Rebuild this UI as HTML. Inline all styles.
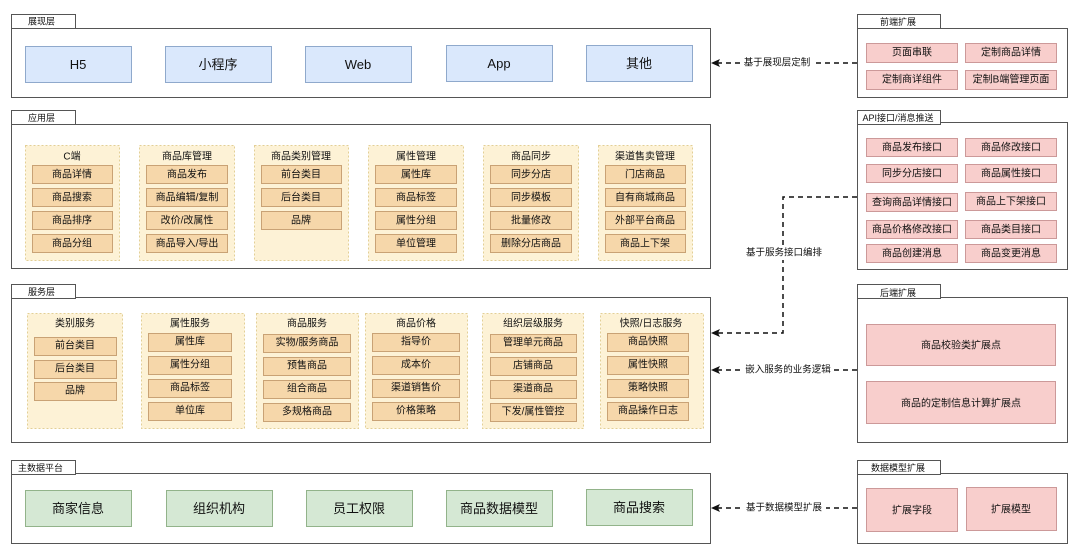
<!DOCTYPE html>
<html><head><meta charset="utf-8"><style>
body{margin:0;background:#fff;width:1080px;height:553px;overflow:hidden}
svg text{font-family:"Liberation Sans","Noto Sans CJK SC",sans-serif;fill:#111;text-anchor:middle;dominant-baseline:central}
.L{fill:#fff;stroke:#555;stroke-width:1}
.b{fill:#dae8fc;stroke:#8fa9cc}
.g{fill:#d5e8d4;stroke:#92b38a}
.p{fill:#f8cecc;stroke:#c99}
.grp{fill:#fdf2d6;stroke:#e3cf95;stroke-dasharray:2 2}
.it{fill:#f6d7aa;stroke:#c9a275}
.c{fill:none;stroke:#111;stroke-width:1.5;stroke-dasharray:5 4}
</style></head><body>
<svg width="1080" height="553" xmlns="http://www.w3.org/2000/svg">
<rect class="L" x="11.5" y="28.5" width="699" height="69"/><rect class="L" x="11.5" y="14.5" width="64" height="14"/><text x="28" y="21.5" font-size="9" style="text-anchor:start">展现层</text>
<rect class="L" x="11.5" y="124.5" width="699" height="144"/><rect class="L" x="11.5" y="110.5" width="64" height="14"/><text x="28" y="118" font-size="9" style="text-anchor:start">应用层</text>
<rect class="L" x="11.5" y="297.5" width="699" height="145"/><rect class="L" x="11.5" y="284.5" width="64" height="14"/><text x="28" y="292" font-size="9" style="text-anchor:start">服务层</text>
<rect class="L" x="11.5" y="473.5" width="699" height="70"/><rect class="L" x="11.5" y="460.5" width="64" height="14"/><text x="18" y="468" font-size="9" style="text-anchor:start">主数据平台</text>

<g font-size="13">
<rect class="b" x="25.5" y="46.5" width="106" height="36"/><text x="78" y="64.5">H5</text>
<rect class="b" x="165.5" y="46.5" width="106" height="36"/><text x="218" y="64.5">小程序</text>
<rect class="b" x="305.5" y="46.5" width="106" height="36"/><text x="358" y="64.5">Web</text>
<rect class="b" x="446.5" y="45.5" width="106" height="36"/><text x="499" y="63.5">App</text>
<rect class="b" x="586.5" y="45.5" width="106" height="36"/><text x="639" y="63.5">其他</text>
</g>

<g font-size="10">
<rect class="grp" x="25.5" y="145.5" width="94" height="115"/><text x="72" y="157">C端</text>
<rect class="it" x="32.5" y="165.5" width="80" height="18"/><text x="72" y="175">商品详情</text>
<rect class="it" x="32.5" y="188.5" width="80" height="18"/><text x="72" y="198">商品搜索</text>
<rect class="it" x="32.5" y="211.5" width="80" height="18"/><text x="72" y="221">商品排序</text>
<rect class="it" x="32.5" y="234.5" width="80" height="18"/><text x="72" y="244">商品分组</text>

<rect class="grp" x="139.5" y="145.5" width="95" height="115"/><text x="187" y="157">商品库管理</text>
<rect class="it" x="146.5" y="165.5" width="81" height="18"/><text x="187" y="175">商品发布</text>
<rect class="it" x="146.5" y="188.5" width="81" height="18"/><text x="187" y="198">商品编辑/复制</text>
<rect class="it" x="146.5" y="211.5" width="81" height="18"/><text x="187" y="221">改价/改属性</text>
<rect class="it" x="146.5" y="234.5" width="81" height="18"/><text x="187" y="244">商品导入/导出</text>

<rect class="grp" x="254.5" y="145.5" width="94" height="115"/><text x="301" y="157">商品类别管理</text>
<rect class="it" x="261.5" y="165.5" width="80" height="18"/><text x="301" y="175">前台类目</text>
<rect class="it" x="261.5" y="188.5" width="80" height="18"/><text x="301" y="198">后台类目</text>
<rect class="it" x="261.5" y="211.5" width="80" height="18"/><text x="301" y="221">品牌</text>

<rect class="grp" x="368.5" y="145.5" width="95" height="115"/><text x="416" y="157">属性管理</text>
<rect class="it" x="375.5" y="165.5" width="81" height="18"/><text x="416" y="175">属性库</text>
<rect class="it" x="375.5" y="188.5" width="81" height="18"/><text x="416" y="198">商品标签</text>
<rect class="it" x="375.5" y="211.5" width="81" height="18"/><text x="416" y="221">属性分组</text>
<rect class="it" x="375.5" y="234.5" width="81" height="18"/><text x="416" y="244">单位管理</text>

<rect class="grp" x="483.5" y="145.5" width="95" height="115"/><text x="531" y="157">商品同步</text>
<rect class="it" x="490.5" y="165.5" width="81" height="18"/><text x="531" y="175">同步分店</text>
<rect class="it" x="490.5" y="188.5" width="81" height="18"/><text x="531" y="198">同步模板</text>
<rect class="it" x="490.5" y="211.5" width="81" height="18"/><text x="531" y="221">批量修改</text>
<rect class="it" x="490.5" y="234.5" width="81" height="18"/><text x="531" y="244">删除分店商品</text>

<rect class="grp" x="598.5" y="145.5" width="94" height="115"/><text x="645" y="157">渠道售卖管理</text>
<rect class="it" x="605.5" y="165.5" width="80" height="18"/><text x="645" y="175">门店商品</text>
<rect class="it" x="605.5" y="188.5" width="80" height="18"/><text x="645" y="198">自有商城商品</text>
<rect class="it" x="605.5" y="211.5" width="80" height="18"/><text x="645" y="221">外部平台商品</text>
<rect class="it" x="605.5" y="234.5" width="80" height="18"/><text x="645" y="244">商品上下架</text>
</g>

<g font-size="10">
<rect class="grp" x="27.5" y="313.5" width="95" height="115"/><text x="75" y="324">类别服务</text>
<rect class="it" x="34.5" y="337.5" width="82" height="18"/><text x="75" y="346">前台类目</text>
<rect class="it" x="34.5" y="360.5" width="82" height="18"/><text x="75" y="369">后台类目</text>
<rect class="it" x="34.5" y="382.5" width="82" height="18"/><text x="75" y="391">品牌</text>

<rect class="grp" x="141.5" y="313.5" width="103" height="115"/><text x="190" y="324">属性服务</text>
<rect class="it" x="148.5" y="333.5" width="83" height="18"/><text x="190" y="342">属性库</text>
<rect class="it" x="148.5" y="356.5" width="83" height="18"/><text x="190" y="365">属性分组</text>
<rect class="it" x="148.5" y="379.5" width="83" height="18"/><text x="190" y="388">商品标签</text>
<rect class="it" x="148.5" y="402.5" width="83" height="18"/><text x="190" y="411">单位库</text>

<rect class="grp" x="256.5" y="313.5" width="102" height="115"/><text x="307" y="324">商品服务</text>
<rect class="it" x="263.5" y="334.5" width="87" height="18"/><text x="307" y="343">实物/服务商品</text>
<rect class="it" x="263.5" y="357.5" width="87" height="18"/><text x="307" y="366">预售商品</text>
<rect class="it" x="263.5" y="380.5" width="87" height="18"/><text x="307" y="389">组合商品</text>
<rect class="it" x="263.5" y="403.5" width="87" height="18"/><text x="307" y="412">多规格商品</text>

<rect class="grp" x="365.5" y="313.5" width="102" height="115"/><text x="416" y="324">商品价格</text>
<rect class="it" x="372.5" y="333.5" width="87" height="18"/><text x="416" y="342">指导价</text>
<rect class="it" x="372.5" y="356.5" width="87" height="18"/><text x="416" y="365">成本价</text>
<rect class="it" x="372.5" y="379.5" width="87" height="18"/><text x="416" y="388">渠道销售价</text>
<rect class="it" x="372.5" y="402.5" width="87" height="18"/><text x="416" y="411">价格策略</text>

<rect class="grp" x="482.5" y="313.5" width="101" height="115"/><text x="533" y="324">组织层级服务</text>
<rect class="it" x="490.5" y="334.5" width="86" height="18"/><text x="533" y="343">管理单元商品</text>
<rect class="it" x="490.5" y="357.5" width="86" height="18"/><text x="533" y="366">店铺商品</text>
<rect class="it" x="490.5" y="380.5" width="86" height="18"/><text x="533" y="389">渠道商品</text>
<rect class="it" x="490.5" y="403.5" width="86" height="18"/><text x="533" y="412">下发/属性管控</text>

<rect class="grp" x="600.5" y="313.5" width="103" height="115"/><text x="651" y="324">快照/日志服务</text>
<rect class="it" x="607.5" y="333.5" width="81" height="18"/><text x="648" y="342">商品快照</text>
<rect class="it" x="607.5" y="356.5" width="81" height="18"/><text x="648" y="365">属性快照</text>
<rect class="it" x="607.5" y="379.5" width="81" height="18"/><text x="648" y="388">策略快照</text>
<rect class="it" x="607.5" y="402.5" width="81" height="18"/><text x="648" y="411">商品操作日志</text>
</g>

<g font-size="13">
<rect class="g" x="25.5" y="490.5" width="106" height="36"/><text x="78" y="508.5">商家信息</text>
<rect class="g" x="166.5" y="490.5" width="106" height="36"/><text x="219" y="508.5">组织机构</text>
<rect class="g" x="306.5" y="490.5" width="106" height="36"/><text x="359" y="508.5">员工权限</text>
<rect class="g" x="446.5" y="490.5" width="106" height="36"/><text x="499" y="508.5">商品数据模型</text>
<rect class="g" x="586.5" y="489.5" width="106" height="36"/><text x="639" y="507.5">商品搜索</text>
</g>

<g font-size="10">
<rect class="L" x="857.5" y="28.5" width="210" height="69"/><rect class="L" x="857.5" y="14.5" width="83" height="14"/><text x="898" y="22" font-size="9">前端扩展</text>
<rect class="p" x="866.5" y="43.5" width="91" height="19"/><text x="912" y="53">页面串联</text>
<rect class="p" x="965.5" y="43.5" width="91" height="19"/><text x="1011" y="53">定制商品详情</text>
<rect class="p" x="866.5" y="70.5" width="91" height="19"/><text x="912" y="80">定制商详组件</text>
<rect class="p" x="965.5" y="70.5" width="91" height="19"/><text x="1011" y="80">定制B端管理页面</text>

<rect class="L" x="857.5" y="122.5" width="210" height="147"/><rect class="L" x="857.5" y="110.5" width="83" height="14"/><text x="898" y="118" font-size="9">API接口/消息推送</text>
<rect class="p" x="866.5" y="138.5" width="91" height="18"/><text x="912" y="148">商品发布接口</text>
<rect class="p" x="965.5" y="138.5" width="91" height="18"/><text x="1011" y="148">商品修改接口</text>
<rect class="p" x="866.5" y="164.5" width="91" height="18"/><text x="912" y="174">同步分店接口</text>
<rect class="p" x="965.5" y="164.5" width="91" height="18"/><text x="1011" y="174">商品属性接口</text>
<rect class="p" x="866.5" y="193.5" width="91" height="18"/><text x="912" y="203">查询商品详情接口</text>
<rect class="p" x="965.5" y="192.5" width="91" height="18"/><text x="1011" y="202">商品上下架接口</text>
<rect class="p" x="866.5" y="220.5" width="91" height="18"/><text x="912" y="230">商品价格修改接口</text>
<rect class="p" x="965.5" y="220.5" width="91" height="18"/><text x="1011" y="230">商品类目接口</text>
<rect class="p" x="866.5" y="244.5" width="91" height="18"/><text x="912" y="254">商品创建消息</text>
<rect class="p" x="965.5" y="244.5" width="91" height="18"/><text x="1011" y="254">商品变更消息</text>

<rect class="L" x="857.5" y="297.5" width="210" height="145"/><rect class="L" x="857.5" y="284.5" width="83" height="14"/><text x="898" y="293" font-size="9">后端扩展</text>
<rect class="p" x="866.5" y="324.5" width="189" height="41"/><text x="961" y="346">商品校验类扩展点</text>
<rect class="p" x="866.5" y="381.5" width="189" height="42"/><text x="961" y="404">商品的定制信息计算扩展点</text>

<rect class="L" x="857.5" y="473.5" width="210" height="70"/><rect class="L" x="857.5" y="460.5" width="83" height="14"/><text x="898" y="468" font-size="9">数据模型扩展</text>
<rect class="p" x="866.5" y="488.5" width="91" height="43"/><text x="912" y="511">扩展字段</text>
<rect class="p" x="966.5" y="487.5" width="90" height="43"/><text x="1011" y="510">扩展模型</text>
</g>

<path class="c" d="M857 63 H716"/>
<path class="c" d="M857 197 H783 V333 H716"/>
<path class="c" d="M857 370 H716"/>
<path class="c" d="M857 508 H716"/>
<g fill="#111">
<path d="M711 63 L720 59 L718 63 L720 67Z"/>
<path d="M711 333 L720 329 L718 333 L720 337Z"/>
<path d="M711 370 L720 366 L718 370 L720 374Z"/>
<path d="M711 508 L720 504 L718 508 L720 512Z"/>
</g>
<g font-size="9.5">
<rect x="741" y="56" width="72" height="14" fill="#fff"/><text x="777" y="63">基于展现层定制</text>
<rect x="741" y="246" width="86" height="14" fill="#fff"/><text x="784" y="253">基于服务接口编排</text>
<rect x="742" y="363" width="92" height="14" fill="#fff"/><text x="788" y="370">嵌入服务的业务逻辑</text>
<rect x="742" y="501" width="84" height="14" fill="#fff"/><text x="784" y="508">基于数据模型扩展</text>
</g>
</svg>
</body></html>
